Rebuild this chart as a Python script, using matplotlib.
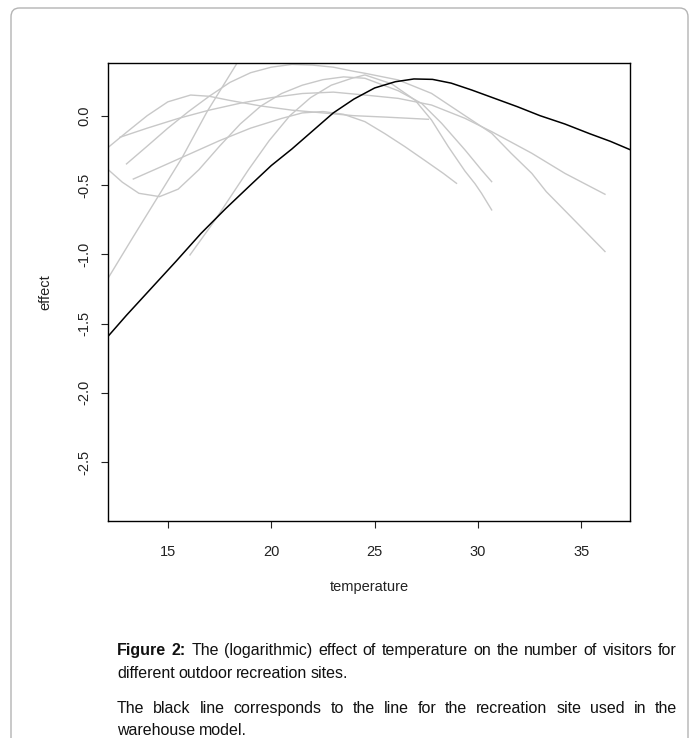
import matplotlib.pyplot as plt
from matplotlib.patches import FancyBboxPatch

plt.rcParams['font.family'] = ['Liberation Sans', 'DejaVu Sans']

# black curve: recreation site used in the warehouse model
black_t = [12.12, 13.0, 14.2, 15.4, 16.6, 17.8, 19.0, 20.0, 21.0, 22.0, 23.0, 24.0, 25.0,
           26.0, 26.9, 27.8, 28.7, 29.7, 30.8, 31.9, 33.0, 34.2, 35.4, 36.4, 37.35]
black_e = [-1.59, -1.44, -1.245, -1.05, -0.85, -0.67, -0.50, -0.36, -0.24, -0.11, 0.02, 0.12, 0.20,
           0.245, 0.265, 0.262, 0.235, 0.185, 0.125, 0.065, 0.0, -0.06, -0.13, -0.185, -0.245]

# gray curves: other recreation sites
site1_t = [12.12, 13.3, 14.5, 15.7, 16.9, 18.35]
site1_e = [-1.17, -0.88, -0.59, -0.30, 0.03, 0.38]

site2_t = [12.12, 12.8, 13.6, 14.6, 15.5, 16.5, 17.5, 18.5, 19.5, 20.5, 21.5, 22.5, 23.5, 24.53,
           26.14, 27.27, 28.24, 29.37, 30.17, 30.66]
site2_e = [-0.39, -0.48, -0.56, -0.584, -0.53, -0.39, -0.22, -0.06, 0.07, 0.16, 0.22, 0.26, 0.28, 0.27,
           0.18, 0.089, -0.055, -0.247, -0.392, -0.476]

site3_t = [12.12, 13.0, 14.0, 15.0, 16.1, 17.0, 18.0, 19.5, 21.0, 22.5, 24.0, 25.5, 27.6]
site3_e = [-0.228, -0.12, 0.0, 0.10, 0.149, 0.14, 0.11, 0.07, 0.04, 0.02, 0.0, -0.01, -0.026]

site4_t = [13.0, 14.0, 15.0, 16.0, 17.0, 18.0, 19.0, 20.0, 21.0, 22.0, 23.0, 24.0, 24.53,
           26.14, 27.75, 29.2, 30.66, 31.6, 32.6, 33.3, 34.5, 36.14]
site4_e = [-0.348, -0.22, -0.09, 0.03, 0.14, 0.24, 0.31, 0.35, 0.37, 0.365, 0.35, 0.32, 0.306,
           0.258, 0.161, 0.017, -0.127, -0.271, -0.416, -0.548, -0.73, -0.98]

site5_t = [16.07, 17.28, 18.89, 19.9, 20.9, 21.9, 22.9, 23.9, 24.53, 25.82, 26.95, 27.75, 28.56,
           29.37, 29.85, 30.17, 30.66]
site5_e = [-1.005, -0.754, -0.392, -0.18, 0.0, 0.13, 0.22, 0.27, 0.294, 0.23, 0.113, -0.031, -0.223,
           -0.40, -0.49, -0.56, -0.68]

site6_t = [12.68, 14.0, 15.5, 17.0, 18.5, 20.0, 21.5, 23.0, 24.53, 26.14, 27.75, 29.37, 30.66,
           32.6, 34.2, 36.14]
site6_e = [-0.156, -0.09, -0.02, 0.04, 0.09, 0.13, 0.16, 0.17, 0.149, 0.125, 0.077, -0.019, -0.115,
           -0.271, -0.416, -0.567]

site7_t = [13.33, 14.5, 16.0, 17.5, 19.0, 20.5, 21.5, 22.5, 23.5, 24.53, 25.5, 26.46, 27.4, 28.32, 28.96]
site7_e = [-0.457, -0.38, -0.28, -0.18, -0.09, -0.02, 0.02, 0.03, 0.01, -0.043, -0.13, -0.223, -0.32,
           -0.416, -0.488]

gray_sites = [(site1_t, site1_e), (site2_t, site2_e), (site3_t, site3_e), (site4_t, site4_e),
              (site5_t, site5_e), (site6_t, site6_e), (site7_t, site7_e)]

x_ticks = [15, 20, 25, 30, 35]
y_ticks = [0.0, -0.5, -1.0, -1.5, -2.0, -2.5]

W, H = 699, 738
fig = plt.figure(figsize=(W / 100, H / 100), dpi=100)

# rounded frame around the figure
frame = FancyBboxPatch((11 / W, -0.05), 677 / W, (H - 8) / H + 0.05,
                       boxstyle="round,pad=0,rounding_size=0.012",
                       transform=fig.transFigure, fill=False, edgecolor="#b4b4b4", linewidth=1.0)
fig.patches.append(frame)

ax = fig.add_axes([108.3 / W, 1 - 521.2 / H, (630 - 108.3) / W, (521.2 - 63.3) / H])
for t, e in gray_sites:
    ax.plot(t, e, color="#c8c8c8", linewidth=1.0)
ax.plot(black_t, black_e, color="black", linewidth=1.1)

ax.set_xlim(12.12, 37.35)
ax.set_ylim(-2.926, 0.378)
ax.set_xticks(x_ticks)
ax.set_xticklabels([str(v) for v in x_ticks])
ax.set_yticks(y_ticks)
ax.set_yticklabels([f"{v:.1f}" for v in y_ticks], rotation=90, va="center")
ax.tick_params(axis="both", length=5, width=0.8, labelsize=10.5, colors="#222222")
ax.tick_params(axis="x", pad=12)
ax.tick_params(axis="y", pad=7)
for sp in ax.spines.values():
    sp.set_linewidth(1.0)
ax.set_xlabel("temperature", fontsize=10.5, color="#222222", labelpad=15)
ax.set_ylabel("effect", fontsize=10.5, color="#222222", labelpad=18)

# caption, justified
renderer = fig.canvas.get_renderer()
cap_size = 11.5


def caption_line(words, y_px, justify=True, x0=117, x1=677):
    texts = []
    for w, wt in words:
        texts.append(fig.text(0, 1 - y_px / H, w, fontsize=cap_size, fontweight=wt,
                              va="baseline", ha="left", color="#111111"))
    widths = [t.get_window_extent(renderer).width for t in texts]
    space = 3.5
    if justify and len(texts) > 1:
        gap = max((x1 - x0 - sum(widths)) / (len(texts) - 1), 2.0)
    else:
        gap = space
    x = x0
    for t, w in zip(texts, widths):
        t.set_x(x / W)
        x += w + gap


def words_of(s, wt="normal"):
    return [(w, wt) for w in s.split()]


caption_line(words_of("Figure 2:", "bold") +
             words_of("The (logarithmic) effect of temperature on the number of visitors for"), 655)
caption_line(words_of("different outdoor recreation sites."), 678, justify=False)
caption_line(words_of("The black line corresponds to the line for the recreation site used in the"), 713)
caption_line(words_of("warehouse model."), 735, justify=False)

fig.savefig("out.png", dpi=100)
